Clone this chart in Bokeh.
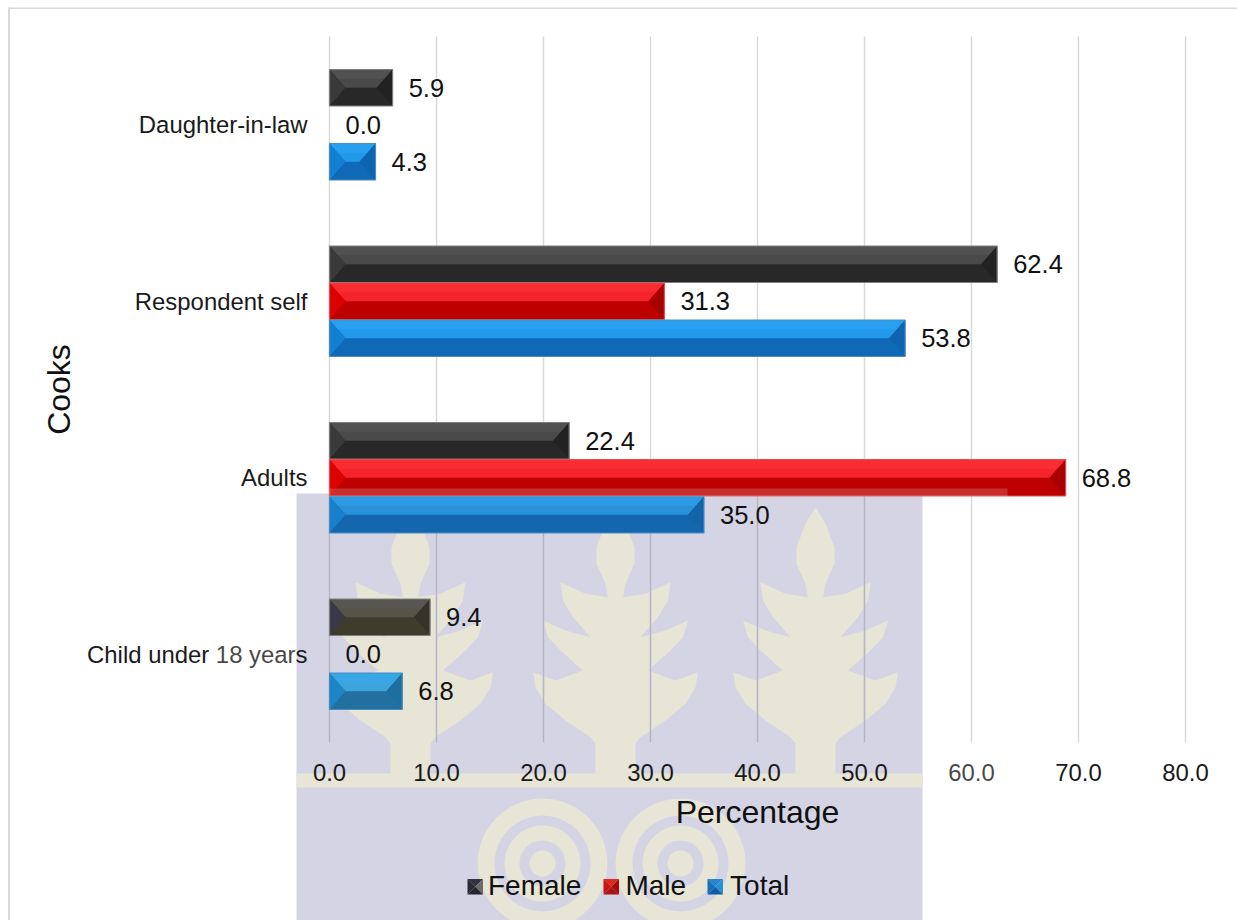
import math
from bokeh.plotting import figure
from bokeh.models import (ColumnDataSource, Range1d, FixedTicker, NumeralTickFormatter, PolyAnnotation,
                          Legend, LegendItem)
from bokeh.core.properties import value
from bokeh.embed import file_html
from bokeh.resources import INLINE

categories = ["Child under 18 years", "Adults", "Respondent self", "Daughter-in-law"]
female = [9.4, 22.4, 62.4, 5.9]
male = [0.0, 68.8, 31.3, 0.0]
total = [6.8, 35.0, 53.8, 4.3]
x_ticks = [0, 10, 20, 30, 40, 50, 60, 70, 80]

FONT = "Liberation Sans"
W, H = 1237, 920
FRAME_L, FRAME_R, FRAME_T, FRAME_B = 329, 1185, 36, 742
PX_X = 80 / (FRAME_R - FRAME_L)
PX_Y = 4 / (FRAME_B - FRAME_T)
Y_LOW, Y_HIGH = -0.5, 3.5
CREST_L, CREST_R, CREST_T = 296, 922, 493

# The plot area fills the canvas, so that the crest behind the chart can run past the axes.
p = figure(width=W, height=H, output_backend="svg", toolbar_location=None,
           x_range=Range1d(-FRAME_L * PX_X, (W - FRAME_L) * PX_X),
           y_range=Range1d(Y_LOW - (H - FRAME_B) * PX_Y, Y_HIGH + FRAME_T * PX_Y),
           min_border=0)
p.outline_line_color = None
p.background_fill_color = None
p.border_fill_color = "white"
p.grid.visible = False

xa, ya = p.xaxis[0], p.yaxis[0]
xa.fixed_location = Y_LOW
ya.fixed_location = 0
xa.bounds = (0, 80)
ya.bounds = (Y_LOW, Y_HIGH)
xa.ticker = FixedTicker(ticks=x_ticks)
xa.formatter = NumeralTickFormatter(format="0.0")
ya.ticker = FixedTicker(ticks=list(range(len(categories))))
ya.major_label_overrides = {i: c for i, c in enumerate(categories)}
for ax in (xa, ya):
    ax.axis_line_color = None
    ax.major_tick_line_color = None
    ax.minor_tick_line_color = None
    ax.major_label_text_font = FONT
    ax.major_label_text_color = "#1a1a1a"
    ax.major_label_text_font_size = "23.9px"
    ax.axis_label_text_font = FONT
    ax.axis_label_text_font_style = "normal"
    ax.axis_label_text_color = "#111111"
    ax.axis_label_text_font_size = "32px"
xa.axis_label = "Percentage"
ya.axis_label = "Cooks"
xa.major_label_standoff = 15
ya.major_label_standoff = 16
xa.axis_label_standoff = 10
ya.axis_label_standoff = 7

p.segment(x0=x_ticks, x1=x_ticks, y0=Y_LOW, y1=Y_HIGH, line_color="#d9d9d9", line_width=1.5, level="underlay")
in_crest = [t for t in x_ticks if CREST_L <= FRAME_L + t / PX_X <= CREST_R]
crest_y = Y_LOW + (FRAME_B - CREST_T) * PX_Y
p.segment(x0=in_crest, x1=in_crest, y0=Y_LOW, y1=crest_y, line_color="#b4b4c2", line_width=1.5, level="underlay")


def poly(pts, color, alpha=1.0, level="image"):
    p.add_layout(PolyAnnotation(xs=[a for a, _ in pts], ys=[H - b for _, b in pts],
                                xs_units="screen", ys_units="screen", fill_color=color, fill_alpha=alpha,
                                line_color=None, level=level))


# frame lines at the chart's top and left edges
poly([(8, 7), (1237, 7), (1237, 8.5), (8, 8.5)], "#d9d9d9", level="underlay")
poly([(7.5, 7), (9.5, 7), (9.5, 920), (7.5, 920)], "#d9d9d9", level="underlay")

# watermark crest
LAV, CREAM = "#d4d4e4", "#e7e5d6"
poly([(CREST_L, CREST_T), (CREST_R, CREST_T), (CREST_R, 920), (CREST_L, 920)], LAV)
poly([(CREST_L, 773), (CREST_R, 773), (CREST_R, 787), (CREST_L, 787)], CREAM)
half = [(0, 80), (20, 130), (38, 200), (38, 250), (20, 310), (15, 350), (60, 340), (110, 305), (105, 360), (85, 410),
        (50, 470), (100, 450), (145, 420), (135, 470), (110, 510), (65, 570), (120, 600), (165, 575), (160, 620),
        (140, 670), (100, 720), (50, 770), (40, 790), (40, 880)]
for cx in (410, 615, 815):
    pts = [(cx + a / 2, 480 + b / 3) for a, b in half]
    pts += [(cx - a / 2, 480 + b / 3) for a, b in reversed(half)]
    poly(pts, CREAM)
for cx in (542, 680):
    for r, col in ((65, CREAM), (48, LAV), (38, CREAM), (23, LAV), (13, CREAM)):
        poly([(cx + r * math.cos(t / 24 * math.pi), 863 + r * math.sin(t / 24 * math.pi)) for t in range(48)], col)

STYLES = {
    "Female": dict(vals=female, off=1, top="#4a4a4a", top2="#5c5c5c", bottom="#282828", left="#3a3a3a", right="#222222", edge="#7f7f7f"),
    "Male": dict(vals=male, off=0, top="#f5242c", top2="#ff3a3a", bottom="#bd0000", left="#dc0000", right="#a80000", edge="#e05050"),
    "Total": dict(vals=total, off=-1, top="#2299ea", top2="#33aaf8", bottom="#0f69b6", left="#1180d2", right="#0e64ae", edge="#4a8cc0"),
}
# colours of bars seen through the crest: (series, category index) -> faces
TINTS = {
    ("Female", 0): dict(top="#55534a", bottom="#3e3c2a", left="#3a3848", right="#36342a"),
    ("Total", 0): dict(top="#3fa4dc", bottom="#22709f", left="#1a86c8", right="#1d6fa0"),
    ("Total", 1): dict(top="#2a90d8", bottom="#1467ae", left="#1680cc", right="#1264a8"),
}
PITCH = 37 * PX_Y
BAR_H = 36.5 * PX_Y
BEV_X = 16 * PX_X

legend_items = []
for name, st in STYLES.items():
    idx = range(len(categories))
    ys = [i + st["off"] * PITCH for i in idx]
    vals = st["vals"]
    face = {k: [TINTS.get((name, i), st)[k] for i in idx] for k in ("top", "bottom", "left", "right")}
    base = ColumnDataSource(dict(y=ys, right=vals, left=[0] * len(vals), c=face["bottom"]))
    p.hbar(y="y", left="left", right="right", height=BAR_H, source=base, fill_color="c", line_color=None)
    # legend entry: its swatch is see-through, because the bevelled key is drawn at its place below
    r = p.hbar(y=[ys[0]], left=[0], right=[0], height=BAR_H, fill_color=st["bottom"], fill_alpha=0, line_color=None)
    legend_items.append(LegendItem(label=name, renderers=[r]))
    keep = [i for i in idx if vals[i] > 0]
    m = [ys[i] for i in keep]
    vs = [vals[i] for i in keep]
    t = [y + BAR_H / 2 for y in m]
    b = [y - BAR_H / 2 for y in m]
    p.patches([[0, v, v - BEV_X, BEV_X] for v in vs], [[u, u, c, c] for u, c in zip(t, m)],
              fill_color=[face["top"][i] for i in keep], line_color=None)
    q = [(u + c) / 2 for u, c in zip(t, m)]
    p.patches([[BEV_X / 2, v - BEV_X / 2, v, 0] for v in vs], [[c, c, u, u] for u, c in zip(t, q)],
              fill_color=st["top2"], fill_alpha=0.4, line_color=None)
    p.patches([[0, BEV_X, 0] for _ in vs], [[u, c, d] for u, c, d in zip(t, m, b)],
              fill_color=[face["left"][i] for i in keep], line_color=None)
    p.patches([[v, v - BEV_X, v] for v in vs], [[u, c, d] for u, c, d in zip(t, m, b)],
              fill_color=[face["right"][i] for i in keep], line_color=None)
    p.hbar(y=m, left=0, right=vs, height=BAR_H, fill_color=None, line_color=st["edge"], line_width=1.2)
    p.text(x=vals, y=ys, text=[f"{v:.1f}" for v in vals], x_offset=16, text_baseline="middle", text_align="left",
           text_font=value(FONT), text_font_size="25.5px", text_color="#111111")

# pale strip where the crest's edge crosses the long red bar
poly([(329, 488), (1007, 488), (1007, 496), (329, 496)], "#ffffff", 0.18, "overlay")
# spots of the labels that the crest's edge has faded
poly([(217, 640), (296, 640), (296, 668), (217, 668)], "#ffffff", 0.2, "overlay")
poly([(947, 760), (997, 760), (997, 786), (947, 786)], "#ffffff", 0.2, "overlay")

legend = Legend(items=legend_items, orientation="horizontal", location=(467, H - 902),
                background_fill_alpha=0, border_line_color=None, margin=0, padding=0, spacing=23,
                glyph_width=16, glyph_height=16, label_standoff=5, label_text_font=FONT,
                label_text_font_size="28px", label_text_color="#111111")
p.add_layout(legend, "center")

# bevelled legend keys
KEYS = [(467, "#33333d", "#2a2a34", "#6a6a6a", "#25252d"), (603, "#dc2a20", "#c81414", "#a50a0a", "#aa1414"),
        (707, "#2a86cc", "#1470b8", "#2a90d4", "#0f5ca4")]
KEY_T, KEY_S = 878.5, 15.5
for kx, c_top, c_left, c_right, c_bot in KEYS:
    cx, cy = kx + KEY_S / 2, KEY_T + KEY_S / 2
    a, z, e = kx, kx + KEY_S, KEY_T + KEY_S
    poly([(a, KEY_T), (z, KEY_T), (cx, cy)], c_top, level="overlay")
    poly([(a, KEY_T), (cx, cy), (a, e)], c_left, level="overlay")
    poly([(z, KEY_T), (cx, cy), (z, e)], c_right, level="overlay")
    poly([(a, e), (cx, cy), (z, e)], c_bot, level="overlay")

open("out.html", "w").write(file_html(p, INLINE))
